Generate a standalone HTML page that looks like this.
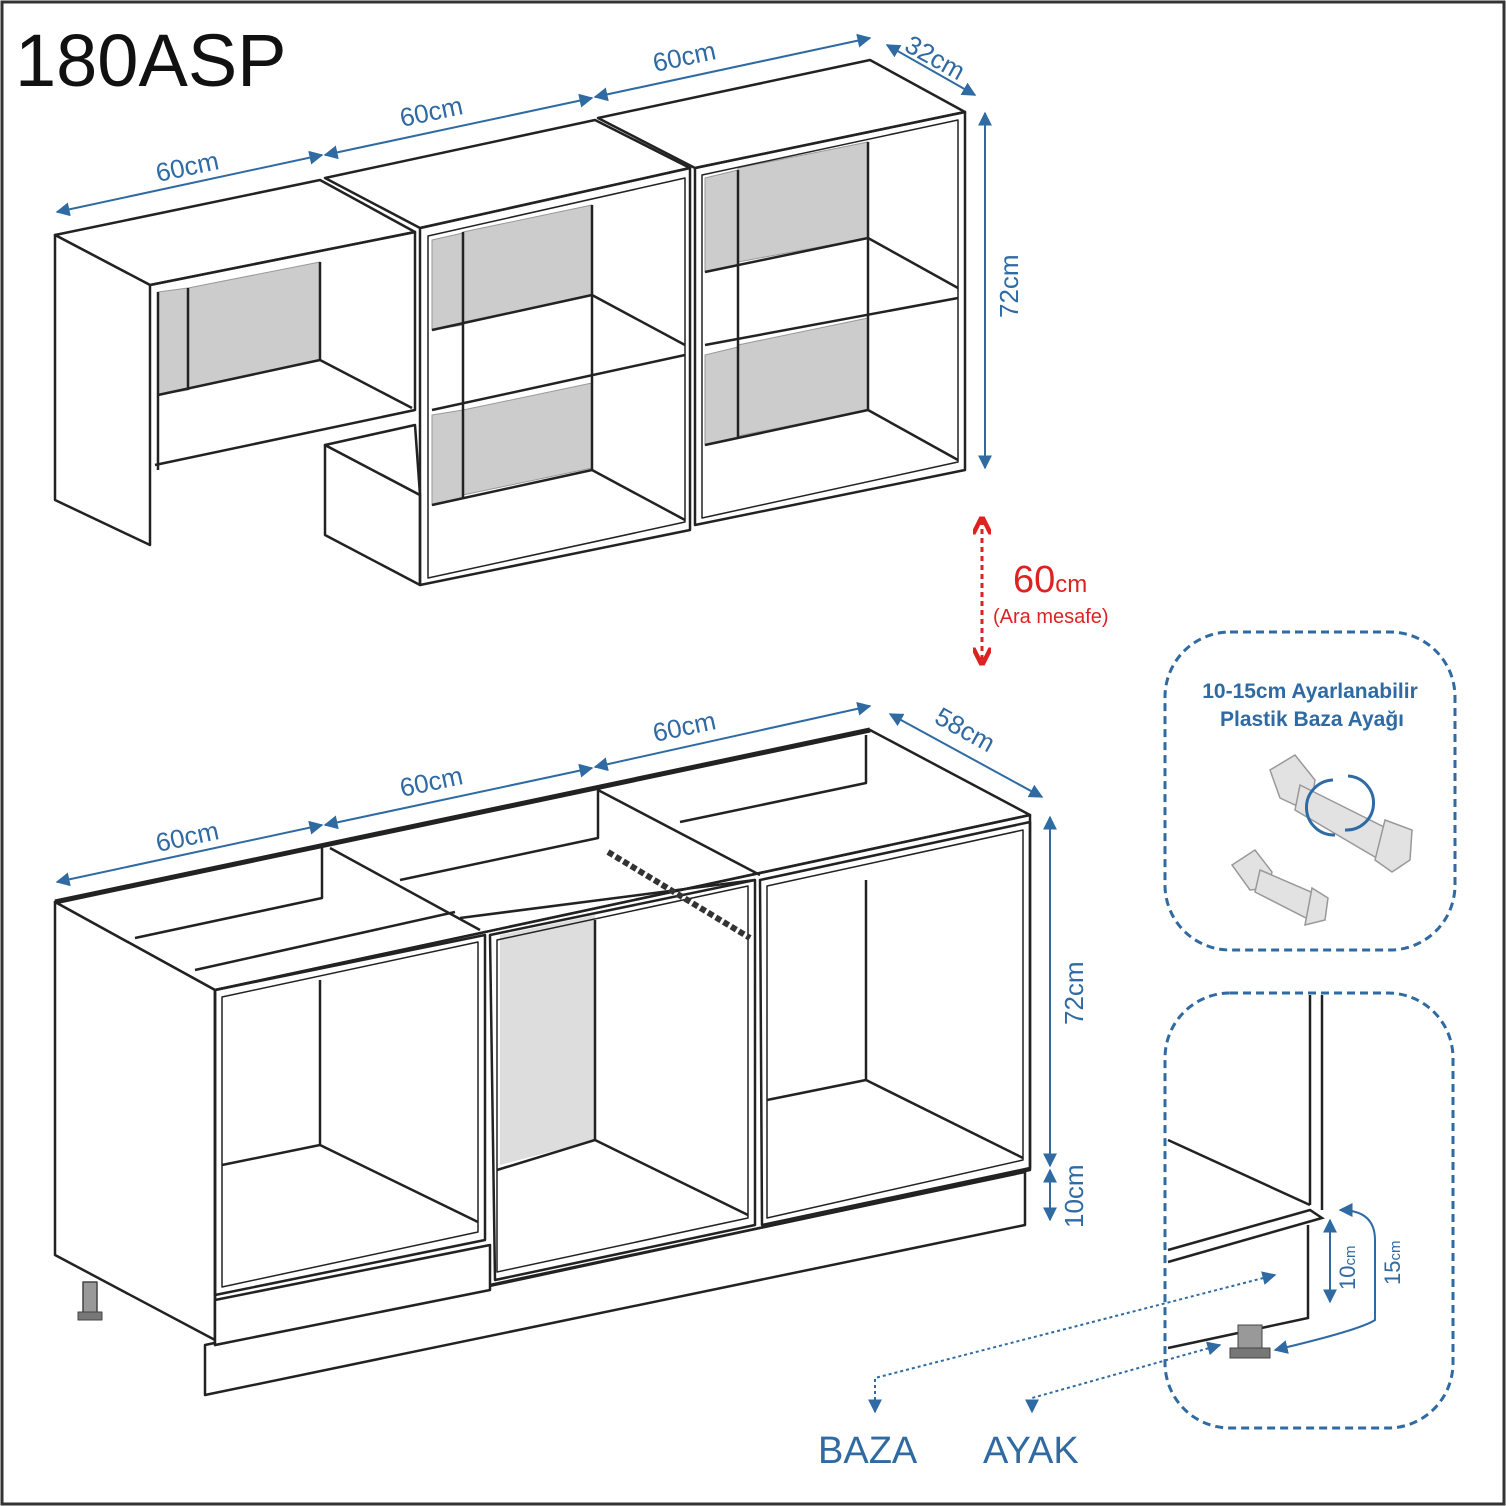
<!DOCTYPE html>
<html><head><meta charset="utf-8"><style>
html,body{margin:0;padding:0;background:#fff}
svg{display:block}
text{font-family:"Liberation Sans",Arial,sans-serif}
</style></head><body>
<svg width="1506" height="1506" viewBox="0 0 1506 1506" xmlns="http://www.w3.org/2000/svg">
<defs>
<marker id="ab" viewBox="0 0 10 10" refX="9" refY="5" markerWidth="7" markerHeight="7" orient="auto-start-reverse"><path d="M0,0 L10,5 L0,10 z" fill="#2f6aa3"/></marker>
<marker id="ar" viewBox="0 0 10 10" refX="8" refY="5" markerWidth="6" markerHeight="6" orient="auto-start-reverse"><path d="M0,0 L10,5 L0,10" fill="none" stroke="#d22" stroke-width="2.5"/></marker>
</defs>
<rect x="2" y="2" width="1502" height="1502" fill="#fff" stroke="#333" stroke-width="3"/>
<text x="15" y="86" font-size="74" fill="#111">180ASP</text>

<!-- UPPER CABINETS -->
<g stroke="#222" stroke-width="2.5" fill="#fff" stroke-linejoin="round">
<polygon points="188,288 320,262 320,360 188,388" fill="#ccc" stroke="#999" stroke-width="1"/>
<polygon points="463,232 592,205 592,295 463,322" fill="#ccc" stroke="#999" stroke-width="1"/>
<polygon points="463,410 592,383 592,468 463,495" fill="#ccc" stroke="#999" stroke-width="1"/>
<polygon points="738,168 868,142 868,238 738,262" fill="#ccc" stroke="#999" stroke-width="1"/>
<polygon points="738,345 868,318 868,410 738,436" fill="#ccc" stroke="#999" stroke-width="1"/>
<polygon points="705,178 738,170 738,265 705,272" fill="#ccc" stroke="#999" stroke-width="1"/>
<polygon points="705,355 738,347 738,438 705,445" fill="#ccc" stroke="#999" stroke-width="1"/>
<polygon points="432,240 463,233 463,325 432,330" fill="#ccc" stroke="#999" stroke-width="1"/>
<polygon points="432,415 463,410 463,498 432,505" fill="#ccc" stroke="#999" stroke-width="1"/>
<polygon points="158,292 188,288 188,390 158,395" fill="#ccc" stroke="#999" stroke-width="1"/>
<polygon points="325,445 420,495 420,585 325,535" />
<polygon points="325,445 415,425 420,495" fill="#fff"/>
<polygon points="55,235 320,180 415,232 150,285"/>
<polygon points="55,235 150,285 150,545 55,500"/>
<polyline points="150,285 415,232 415,410 155,465" fill="none"/>
<line x1="158" y1="292" x2="158" y2="470"/>
<line x1="158" y1="395" x2="320" y2="360"/><line x1="320" y1="360" x2="412" y2="408"/>
<line x1="320" y1="262" x2="320" y2="360"/><line x1="188" y1="288" x2="188" y2="390"/>
<polygon points="325,178 595,120 690,168 420,228"/>
<polygon points="420,228 690,168 690,530 420,585" fill="none"/>
<polygon points="428,236 685,178 685,522 428,578" fill="none" stroke-width="1.5"/>
<line x1="432" y1="330" x2="592" y2="295"/><line x1="592" y1="295" x2="685" y2="345"/>
<line x1="432" y1="410" x2="685" y2="355"/>
<line x1="432" y1="505" x2="592" y2="470"/><line x1="592" y1="470" x2="685" y2="520"/>
<line x1="592" y1="205" x2="592" y2="470"/><line x1="463" y1="232" x2="463" y2="498"/>
<polygon points="598,118 870,60 965,112 695,168"/>
<polygon points="695,168 965,112 965,470 695,525" fill="none"/>
<polygon points="702,175 958,120 958,462 702,518" fill="none" stroke-width="1.5"/>
<line x1="705" y1="272" x2="868" y2="238"/><line x1="868" y1="238" x2="958" y2="288"/>
<line x1="705" y1="345" x2="958" y2="298"/>
<line x1="705" y1="445" x2="868" y2="410"/><line x1="868" y1="410" x2="958" y2="460"/>
<line x1="868" y1="142" x2="868" y2="410"/><line x1="738" y1="170" x2="738" y2="438"/>
</g>

<!-- LOWER CABINETS -->
<g stroke="#222" stroke-width="2.5" fill="#fff" stroke-linejoin="round">
<polygon points="55,902 870,730 1030,815 215,990" fill="#fff"/>
<polygon points="500,935 595,915 595,1140 500,1165" fill="#ddd" stroke="none"/>
<polyline points="55,902 870,730" fill="none" stroke-width="5"/>
<polygon points="55,902 215,990 215,1340 55,1255"/>
<polygon points="205,1345 1025,1172 1025,1225 205,1395"/>
<polygon points="215,990 1030,815 1030,1170 215,1345" fill="none"/>
<polygon points="215,990 485,935 485,1240 215,1295" fill="none"/>
<polygon points="222,997 478,942 478,1232 222,1287" fill="none" stroke-width="1.5"/>
<polygon points="215,1300 490,1245 490,1290 215,1345" fill="#fff"/>
<line x1="222" y1="1165" x2="320" y2="1145"/><line x1="320" y1="1145" x2="478" y2="1222"/>
<line x1="320" y1="980" x2="320" y2="1145"/>
<polyline points="135,938 322,898 322,848" fill="none"/>
<polyline points="195,970 455,912" fill="none"/>
<polygon points="490,935 755,880 755,1225 495,1280" fill="none"/>
<polygon points="497,940 748,886 748,1218 497,1272" fill="none" stroke-width="1.5"/>
<line x1="497" y1="1170" x2="595" y2="1140"/><line x1="595" y1="1140" x2="748" y2="1215"/>
<line x1="595" y1="920" x2="595" y2="1140"/>
<polyline points="400,880 598,838 598,790" fill="none"/>
<polyline points="460,918 755,880" fill="none"/>
<polygon points="760,880 1030,822 1030,1168 762,1225" fill="none"/>
<polygon points="767,886 1023,830 1023,1160 767,1218" fill="none" stroke-width="1.5"/>
<line x1="767" y1="1100" x2="866" y2="1080"/><line x1="866" y1="1080" x2="1023" y2="1158"/>
<line x1="866" y1="880" x2="866" y2="1080"/>
<polyline points="680,822 866,783 866,735" fill="none"/>
<line x1="598" y1="790" x2="760" y2="875"/>
<line x1="330" y1="848" x2="480" y2="930"/>
<rect x="83" y="1282" width="14" height="35" fill="#999" stroke="#444" stroke-width="1.5"/>
<rect x="78" y="1312" width="24" height="8" fill="#777" stroke="#444" stroke-width="1"/>
</g>
<path d="M608,852 L750,938" stroke="#333" stroke-width="6" stroke-dasharray="6 3"/>

<g stroke="#2f6aa3" stroke-width="2" fill="none">
<line x1="57" y1="212" x2="322" y2="155" marker-start="url(#ab)" marker-end="url(#ab)"/>
<line x1="325" y1="155" x2="592" y2="98" marker-start="url(#ab)" marker-end="url(#ab)"/>
<line x1="595" y1="97" x2="870" y2="38" marker-start="url(#ab)" marker-end="url(#ab)"/>
<line x1="887" y1="45" x2="975" y2="95" marker-start="url(#ab)" marker-end="url(#ab)"/>
<line x1="985" y1="113" x2="985" y2="468" marker-start="url(#ab)" marker-end="url(#ab)"/>
<line x1="57" y1="882" x2="322" y2="825" marker-start="url(#ab)" marker-end="url(#ab)"/>
<line x1="325" y1="825" x2="592" y2="768" marker-start="url(#ab)" marker-end="url(#ab)"/>
<line x1="595" y1="767" x2="870" y2="706" marker-start="url(#ab)" marker-end="url(#ab)"/>
<line x1="890" y1="714" x2="1042" y2="797" marker-start="url(#ab)" marker-end="url(#ab)"/>
<line x1="1050" y1="817" x2="1050" y2="1166" marker-start="url(#ab)" marker-end="url(#ab)"/>
<line x1="1050" y1="1170" x2="1050" y2="1220" marker-start="url(#ab)" marker-end="url(#ab)"/>
</g>
<g fill="#2f6aa3" font-size="26">
<text transform="translate(158,182) rotate(-12)">60cm</text>
<text transform="translate(402,127) rotate(-12)">60cm</text>
<text transform="translate(655,72) rotate(-12)">60cm</text>
<text transform="translate(903,50) rotate(29)">32cm</text>
<text transform="translate(1018,318) rotate(-90)">72cm</text>
<text transform="translate(158,852) rotate(-12)">60cm</text>
<text transform="translate(402,797) rotate(-12)">60cm</text>
<text transform="translate(655,742) rotate(-12)">60cm</text>
<text transform="translate(933,722) rotate(29)">58cm</text>
<text transform="translate(1083,1025) rotate(-90)">72cm</text>
<text transform="translate(1083,1228) rotate(-90)">10cm</text>
</g>

<line x1="982" y1="520" x2="982" y2="662" stroke="#d22" stroke-width="3" stroke-dasharray="5 4" marker-start="url(#ar)" marker-end="url(#ar)"/>
<text x="1013" y="592" fill="#d22" font-size="38">60<tspan font-size="24">cm</tspan></text>
<text x="993" y="623" fill="#d22" font-size="20">(Ara mesafe)</text>

<rect x="1165" y="632" width="290" height="318" rx="65" fill="none" stroke="#2f6aa3" stroke-width="3" stroke-dasharray="8 5"/>
<text x="1310" y="698" text-anchor="middle" font-size="21" font-weight="bold" fill="#2f6aa3">10-15cm Ayarlanabilir</text>
<text x="1312" y="726" text-anchor="middle" font-size="21" font-weight="bold" fill="#2f6aa3">Plastik Baza Ayağı</text>
<g fill="#e2e2e2" stroke="#999" stroke-width="1.5">
<polygon points="1270,770 1295,755 1315,780 1312,800 1295,805 1280,798"/>
<polygon points="1300,785 1390,830 1380,860 1295,810"/>
<polygon points="1385,820 1412,830 1410,860 1392,872 1375,860"/>
<polygon points="1232,865 1255,850 1272,872 1268,888 1250,890"/>
<polygon points="1260,870 1318,895 1310,920 1255,892"/>
<polygon points="1312,888 1328,898 1325,920 1305,925"/>
</g>
<path d="M1348,776 A24,24 0 0 1 1345,830" stroke="#2f6aa3" stroke-width="3" fill="none"/>
<path d="M1333,780 A24,24 0 0 0 1335,835" stroke="#2f6aa3" stroke-width="3" fill="none"/>

<rect x="1165" y="993" width="288" height="435" rx="65" fill="none" stroke="#2f6aa3" stroke-width="3" stroke-dasharray="8 5"/>
<g stroke="#222" stroke-width="2.5" fill="none">
<line x1="1310" y1="995" x2="1310" y2="1205"/><line x1="1322" y1="995" x2="1322" y2="1210"/>
<line x1="1168" y1="1140" x2="1310" y2="1205"/>
<polyline points="1168,1262 1322,1218 1310,1210 1168,1250"/>
<polyline points="1308,1225 1308,1318 1168,1348"/>
</g>
<rect x="1238" y="1325" width="24" height="28" fill="#999" stroke="#444"/>
<rect x="1230" y="1348" width="40" height="10" fill="#777" stroke="#444"/>
<g stroke="#2f6aa3" stroke-width="2" fill="none">
<line x1="1330" y1="1220" x2="1330" y2="1302" marker-start="url(#ab)" marker-end="url(#ab)"/>
<path d="M1340,1210 Q1375,1210 1375,1240 L1375,1320 Q1360,1330 1275,1350" marker-start="url(#ab)" marker-end="url(#ab)"/>
<polyline points="1275,1275 875,1378 875,1412" stroke-dasharray="3 3" marker-start="url(#ab)" marker-end="url(#ab)"/>
<polyline points="1220,1345 1032,1398 1032,1412" stroke-dasharray="3 3" marker-start="url(#ab)" marker-end="url(#ab)"/>
</g>
<text transform="translate(1355,1290) rotate(-90)" fill="#2f6aa3" font-size="22">10<tspan font-size="15">cm</tspan></text>
<text transform="translate(1400,1285) rotate(-90)" fill="#2f6aa3" font-size="22">15<tspan font-size="15">cm</tspan></text>
<text x="818" y="1463" fill="#2f6aa3" font-size="38">BAZA</text>
<text x="983" y="1463" fill="#2f6aa3" font-size="38">AYAK</text>
</svg>
</body></html>
